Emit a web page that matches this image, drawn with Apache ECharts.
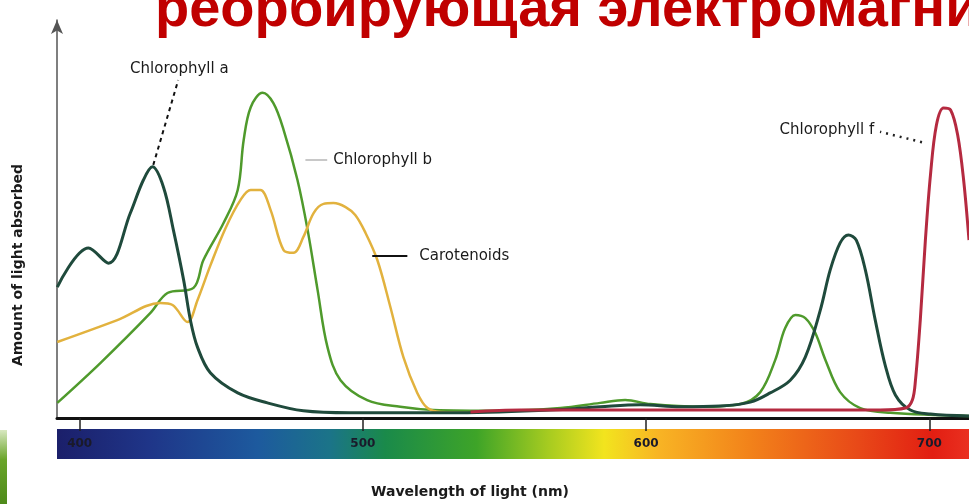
<!DOCTYPE html>
<html>
<head>
<meta charset="utf-8">
<script src="https://cdn.jsdelivr.net/npm/echarts@6/dist/echarts.min.js"></script>
<style>html,body{margin:0;padding:0;background:#fff}#c{width:969px;height:504px}</style>
</head>
<body>
<div id="c"></div>
<script>
// ---- data (wavelength nm, relative absorption) ----
const titleText = 'реорбирующая электромагнитное излучение';
const xName = 'Wavelength of light (nm)';
const yName = 'Amount of light absorbed';
const tickValues = [400, 500, 600, 700];
const seriesNames = ['Chlorophyll a', 'Chlorophyll b', 'Carotenoids', 'Chlorophyll f'];

const chlA = [[392.1,32.9],[403.1,42.7],[410.2,38.9],[417.9,51.5],[422.5,59.8],[425.7,63.1],[429.6,58.0],[433.1,47.2],[436.7,34.7],[439.1,24.6],[441.6,17.8],[446.2,11.3],[455.8,6.3],[466.3,3.8],[479.0,1.8],[495.5,1.3],[530.9,1.3],[566.1,2.0],[583.8,2.8],[597.9,3.3],[612.1,2.8],[626.2,3.0],[636.8,4.0],[643.8,6.3],[650.9,9.5],[656.2,15.3],[661.5,27.1],[665.0,37.2],[668.5,44.0],[671.4,46.0],[674.2,44.7],[677.4,37.2],[680.9,24.6],[684.4,13.3],[688.0,5.8],[693.3,2.0],[700.4,1.0],[714,0.5]];
const chlB = [[392.1,3.8],[407.3,13.8],[425.0,26.4],[431.0,31.4],[440.2,32.7],[443.7,39.7],[450.8,49.0],[455.8,57.3],[457.9,69.8],[460.4,78.1],[464.6,81.7],[468.4,79.1],[472.0,72.4],[476.9,59.8],[480.5,47.2],[484.0,32.2],[487.5,17.8],[492.1,9.5],[501.5,4.5],[513.2,2.8],[524.9,2.0],[548.6,1.8],[569.8,2.5],[583.8,3.8],[592.6,4.5],[601.5,3.5],[619.1,2.8],[633.3,3.5],[640.3,6.5],[645.6,14.6],[649.1,22.6],[652.7,25.9],[656.2,25.1],[659.7,21.4],[663.3,14.6],[668.5,6.5],[675.6,2.5],[686.2,1.3],[714,0.5]];
const carot = [[392.1,19.1],[413.3,24.6],[428.5,28.9],[432.8,28.4],[438.1,24.1],[441.6,29.6],[446.2,38.4],[451.5,47.7],[456.8,54.8],[460.4,57.3],[463.8,57.3],[467.4,52.3],[472.0,42.2],[475.5,41.5],[479.0,45.5],[482.6,51.5],[486.1,53.8],[489.6,54.0],[493.9,53.0],[497.3,51.0],[500.8,46.7],[505.1,39.7],[509.7,27.9],[514.3,15.3],[519.2,6.3],[522.8,2.5],[527.4,1.5],[538.0,1.3]];
const chlF = [[538.0,1.5],[555.7,2.0],[619.1,2.0],[682.6,2.0],[691.6,2.5],[694.0,4.5],[695.1,9.5],[696.8,24.6],[698.6,44.7],[700.4,61.1],[702.5,73.6],[705.0,77.9],[707.5,77.4],[710.0,71.1],[712.1,59.8],[714,44.7]];

// leader lines [from, to] in data space
const leaderA = [[426.0,63.6],[434.8,84.9]];
const leaderB = [[479.7,64.8],[487.4,64.8]];
const leaderC = [[503.3,40.7],[515.7,40.7]];
const leaderF = [[697.4,69.3],[682.6,71.9]];

const chart = echarts.init(document.getElementById('c'), null, {renderer:'canvas'});
const labelFont = {fontFamily:'DejaVu Sans, sans-serif', fontSize:15, color:'#1a1a1a'};

function leader(pts, color, type, width, name, extra){
  return {
    silent:true, symbol:['none','none'], animation:false,
    lineStyle:{color:color, type:type, width:width},
    label:Object.assign({show:true, position:'end', formatter:name, distance:6}, labelFont, extra||{}),
    data:[[{coord:pts[0]},{coord:pts[1]}]]
  };
}

const option = {
  animation:false,
  backgroundColor:'#ffffff',
  title:{
    text:titleText, left:150, top:-22,
    textStyle:{fontFamily:'Liberation Sans, Arial, sans-serif', fontSize:56, fontWeight:'bold', color:'#c00000'}
  },
  grid:{left:57, right:0, top:20, bottom:86},
  xAxis:{
    type:'value', min:392, max:714,
    name:xName, nameLocation:'middle', nameGap:67,
    nameTextStyle:{fontFamily:'DejaVu Sans, sans-serif', fontSize:14, fontWeight:'bold', color:'#1a1a1a', padding:[0,86,0,0]},
    axisLine:{show:true, lineStyle:{color:'#111', width:3}},
    axisTick:{show:true, customValues:tickValues, length:13, lineStyle:{color:'#222', width:1.5}},
    axisLabel:{show:true, customValues:tickValues, margin:20, fontSize:12, fontWeight:'bold', color:'#1a1a2a', fontFamily:'DejaVu Sans, sans-serif'},
    splitLine:{show:false}
  },
  yAxis:{
    type:'value', min:0, max:100,
    axisLine:{show:true, symbol:['none','arrow'], symbolSize:[9,14], lineStyle:{color:'#555', width:1.5}},
    axisTick:{show:false}, axisLabel:{show:false}, splitLine:{show:false}
  },
  graphic:[
    {type:'rect', z:-1, shape:{x:57, y:429, width:912, height:30},
     style:{fill:{type:'linear', x:0, y:0, x2:1, y2:0, colorStops:[
       {offset:0, color:'#1b1f6a'},{offset:0.1, color:'#1f3588'},{offset:0.22, color:'#1d5a9e'},
       {offset:0.3, color:'#1b7488'},{offset:0.36, color:'#1a8a4a'},{offset:0.46, color:'#3ea428'},
       {offset:0.54, color:'#a8cc20'},{offset:0.6, color:'#f2e41e'},{offset:0.66, color:'#f8b424'},
       {offset:0.76, color:'#f2821a'},{offset:0.88, color:'#e84818'},{offset:0.96, color:'#e21e12'},{offset:1, color:'#ea3020'}]}}},
    {type:'rect', z:-1, shape:{x:0, y:430, width:7, height:74},
     style:{fill:{type:'linear', x:0, y:0, x2:0, y2:1, colorStops:[{offset:0,color:'#d8e8c0'},{offset:0.4,color:'#6aa52a'},{offset:1,color:'#4e8a1a'}]}}},
    {type:'text', x:18, y:265, rotation:Math.PI/2,
     style:{text:yName, align:'center', verticalAlign:'middle', font:'bold 14px "DejaVu Sans", sans-serif', fill:'#1a1a1a'}}
  ],
  series:[
    {name:seriesNames[1], type:'line', data:chlB, smooth:0.35, showSymbol:false, silent:true,
     lineStyle:{color:'#4f9a2c', width:2.5},
     markLine:leader(leaderB, '#c8c8c8', 'solid', 2, seriesNames[1])},
    {name:seriesNames[2], type:'line', data:carot, smooth:0.35, showSymbol:false, silent:true,
     lineStyle:{color:'#e2b23e', width:2.5},
     markLine:leader(leaderC, '#111', 'solid', 2, seriesNames[2], {distance:12})},
    {name:seriesNames[0], type:'line', data:chlA, smooth:0.35, showSymbol:false, silent:true,
     lineStyle:{color:'#1f4a3c', width:3},
     markLine:leader(leaderA, '#111', [4,4], 2, seriesNames[0], {distance:4})},
    {name:seriesNames[3], type:'line', data:chlF, smooth:0.35, showSymbol:false, silent:true,
     lineStyle:{color:'#b52a40', width:3},
     markLine:leader(leaderF, '#222', [2,5], 2.5, seriesNames[3], {distance:6})}
  ]
};
chart.setOption(option);
</script>
</body>
</html>
